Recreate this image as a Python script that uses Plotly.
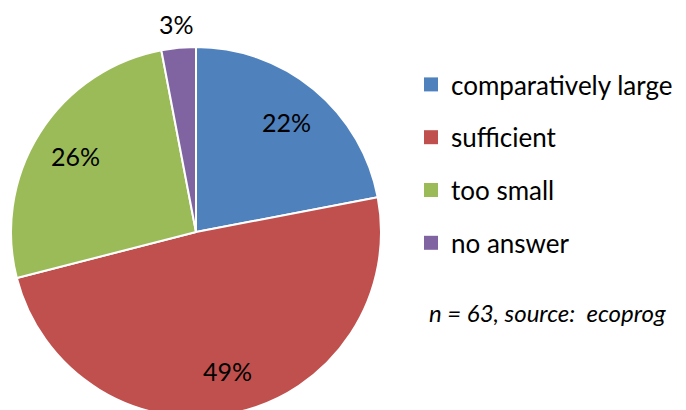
import math
import plotly.graph_objects as go

# ---- data ----
categories = ["comparatively large", "sufficient", "too small", "no answer"]
values = [22, 49, 26, 3]
label_texts = ["22%", "49%", "26%", "3%"]
colors = ["#4F81BD", "#C0504D", "#9BBB59", "#8064A2"]
note = "<i>n = 63, source:  ecoprog</i>"

# ---- layout constants (figure pixels) ----
W, H = 686, 410
OFF = 8                      # page body margin
top = 47 - OFF
bottom_margin = 1
R = (H - top - bottom_margin) / 2.0
cx, cy = 196.0 - OFF, top + R

def to_paper(px, py):
    return px / W, 1 - py / H

fig = go.Figure()
fig.add_trace(go.Pie(
    labels=categories, values=values, sort=False, direction="clockwise",
    rotation=0, textinfo="none", hoverinfo="label+percent",
    marker=dict(colors=colors, line=dict(color="white", width=2)),
    domain=dict(x=[(cx - R) / W, (cx + R) / W],
                y=[bottom_margin / H, 1 - top / H]),
    showlegend=False,
))

# legend entries (one group each, so they can be spaced)
for i, (c, col) in enumerate(zip(categories, colors)):
    fig.add_trace(go.Scatter(
        x=[None], y=[None], mode="markers", name=c, legendgroup=str(i),
        marker=dict(symbol="square", size=14, color=col,
                    line=dict(color="white", width=0)),
        hoverinfo="skip",
    ))

# percentage labels positioned from the cumulative values
total = sum(values)
cum = 0
for v, t in zip(values, label_texts):
    mid = (cum + v / 2) / total * 2 * math.pi
    cum += v
    f = 1.13 if v / total < 0.05 else 0.77
    px = cx + f * R * math.sin(mid)
    py = cy - f * R * math.cos(mid)
    xp, yp = to_paper(px, py)
    fig.add_annotation(x=xp, y=yp, xref="paper", yref="paper",
                       text=t, showarrow=False, xanchor="center", yanchor="middle",
                       font=dict(size=25, color="black"))

nx, ny = to_paper(427 - OFF, 312 - OFF)
fig.add_annotation(x=nx, y=ny, xref="paper", yref="paper",
                   text=note, showarrow=False, xanchor="left", yanchor="middle",
                   font=dict(size=24, color="black"))

lx, ly = to_paper(431 - OFF - 20, 86 - OFF - 25)
fig.update_layout(
    width=W, height=H,
    margin=dict(l=0, r=0, t=0, b=0),
    paper_bgcolor="white", plot_bgcolor="white",
    font=dict(family="Lato, Calibri, sans-serif", color="black"),
    xaxis=dict(visible=False), yaxis=dict(visible=False),
    legend=dict(x=lx, y=ly, xanchor="left", yanchor="top",
                font=dict(size=26), tracegroupgap=16,
                bgcolor="rgba(0,0,0,0)"),
)

fig.write_html("out.html")
